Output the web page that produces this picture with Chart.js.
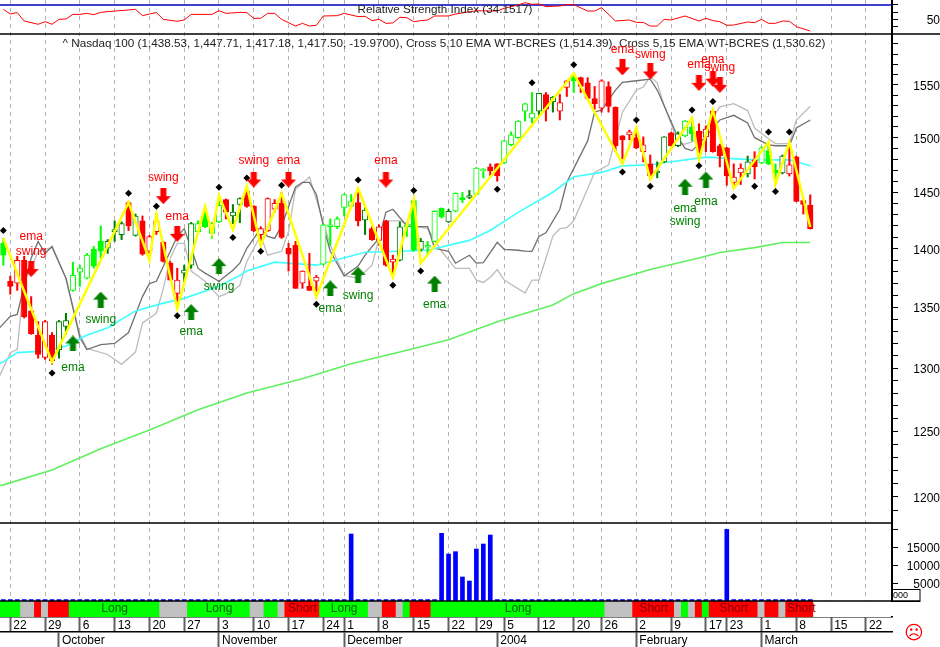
<!DOCTYPE html>
<html>
<head>
<meta charset="utf-8">
<title>Nasdaq 100</title>
<script src="https://cdn.jsdelivr.net/npm/chart.js@4/dist/chart.umd.min.js"></script>
<style>
  html, body { margin: 0; padding: 0; background: #fff; }
  canvas { display: block; }
</style>
</head>
<body>
<canvas id="chart" width="940" height="647"></canvas>
<script>
// daily candles, index 0 = 19 Sep 2003
const opens = [
  1404.7,1372,1370.3,1390,1347,1326.7,1308.6,1326.7,1315,1334,
  1364.3,1379.8,1374.6,1399.5,1406.4,1400.4,1415,1412.4,1440.8,1411.6,
  1424.5,1397.8,1415,1405.6,1387.5,1361.7,1379,1385.8,1415,1430.5,
  1413.3,1423.6,1443.4,1428.8,1439,1450.8,1437.4,1412.4,1415.9,1434.8,
  1440,1400.4,1403,1370.3,1367.7,1372,1386.7,1419.3,1419.3,1436.5,
  1437.4,1440.8,1425.3,1417.6,1407.3,1424.5,1388.4,1390,1419.3,1442.5,
  1399.5,1401.3,1406.4,1435.7,1423.6,1433,1445.3,1445.3,1448,1469.3,
  1473,1475.8,1476.7,1493.4,1500,1525,1518.4,1525,1540.8,1534,
  1525,1547.5,1558,1557,1552,1537,1527.7,1548.5,1528.6,1501.7,
  1502.6,1500,1487,1475.8,1467.5,1477.7,1504.5,1492.5,1501.7,1510,
  1506,1500.8,1525,1492.5,1490.6,1459,1467.5,1466.6,1479.5,1476.7,
  1488,1470,1467.5,1466.6,1482.3,1442.5,1438.53
]
const highs = [
  1409,1376.4,1393.5,1393.5,1359,1338,1339,1329,1339,1345,
  1388.4,1385.8,1396,1402,1420,1408,1424.5,1423.6,1441.7,1430.5,
  1428.8,1411.6,1430.5,1406.4,1389,1383.2,1385.8,1423,1424.5,1438.2,
  1423,1448,1444,1439,1445,1452.7,1438,1419.3,1445,1443.4,
  1449.9,1404.7,1406.4,1381,1396,1377,1421.5,1426.2,1428,1448.5,
  1448,1452.7,1436.5,1419.3,1421,1425,1394.4,1423.6,1421.5,1443,
  1409,1406.4,1433.5,1436,1434.8,1449.5,1449.9,1451.7,1472.5,1471.5,
  1475.8,1476,1497.5,1505.4,1516,1532.5,1542.7,1542,1542.7,1538.9,
  1540.8,1554.5,1560,1557.5,1557,1548.5,1555,1553,1529,1502,
  1507,1508,1500.8,1484,1477.7,1501,1505,1505.4,1516,1517.5,
  1513,1511,1525.5,1494,1491,1475.8,1475.8,1483,1487,1491.5,
  1496,1475.8,1484,1494,1483,1443.4,1447.71
]
const lows = [
  1385.8,1361,1364.3,1341,1327.5,1308,1307,1303,1308,1327.5,
  1363.5,1367.7,1374,1383.2,1391.8,1396,1406.4,1408,1415.9,1411,
  1394.4,1396,1412.4,1388.4,1373,1355,1370.3,1383.2,1414.2,1418.5,
  1409,1423,1426.2,1422,1422.8,1436.5,1415,1403,1415,1432.2,
  1409,1380.7,1366,1366,1364,1363.5,1386,1403,1417.6,1428.8,
  1437,1420,1412.4,1407.3,1403,1385,1376.4,1389.5,1410.7,1398,
  1397.8,1396,1406,1427,1423,1432.5,1440.8,1444.3,1447.5,1463,
  1464.7,1460,1476,1492.5,1499.5,1515.6,1513.8,1520,1515.6,1524,
  1516.6,1538.9,1542.7,1542.7,1536,1526.7,1524,1524,1487,1480.4,
  1498,1489.7,1477.7,1462,1463,1477,1492,1491.6,1501,1497,
  1478.6,1487,1486.5,1473,1456.3,1455.4,1457,1463.8,1462,1476,
  1475,1458,1466.6,1464.7,1441.5,1430.5,1417.18
]
const closes = [
  1394.4,1367.7,1390,1342,1328,1311,1338,1306,1338,1339,
  1377,1383.2,1394.4,1385,1397.8,1406.4,1416.7,1422,1420,1428.8,
  1395.2,1410.7,1424.5,1389,1373,1373,1381.5,1422,1422,1419.3,
  1422,1438.2,1432.2,1432.2,1444.3,1437.4,1415.9,1417.6,1444.3,1440,
  1409.9,1395.2,1366,1380.7,1364.3,1375.5,1421,1421,1426.2,1448,
  1441.7,1424.5,1434,1408,1419.3,1385.8,1391,1419.3,1421,1398.7,
  1406.4,1403,1433,1428,1433,1449,1443.4,1447,1472,1471,
  1469.3,1464.7,1497,1502.6,1515.6,1532,1523,1541.8,1526.7,1538,
  1533,1554,1554,1548.5,1537,1532,1554,1529.5,1492.5,1498,
  1505.4,1490.6,1493.4,1464.7,1469.3,1500.8,1492.5,1503.6,1515.6,1503.6,
  1488,1508,1487,1483,1464.7,1463.8,1472,1477.7,1473,1490.6,
  1475.8,1467.5,1483,1475,1441.7,1439,1417.5
]
// b = bright green, d = dark green, r = red
const candleTones = (
  'brrrrrrrdd' + 'bbbbbdddrd' + 'rrrrrrddbb' + 'bbrddrrrrr' + 'rrrrrrbbbb' + 'brdrrrrdbb' +
  'dbbbdbbdbb' + 'rrbbbbbdrd' + 'rrbrrrrrrr' + 'rrrrddrdbb' + 'rrrrrrrdrb' + 'bbdrrrr'
).split('')

const zigzagDays = [0,7,18,21,22,25,29,30,31,33,35,37,40,45,51,56,59,60,82,89,91,93,99,100,102,105,110,111,113,116]
const zigzagPrices = [1409,1305,1440.8,1390,1430.5,1349,1437.4,1413.3,1447,1416.7,1455.4,1403,1449,1359,1453.6,1375.5,1443.4,1387.5,1561,1475.8,1509,1462,1518.4,1479.5,1526,1453.6,1496,1457,1496,1419]

const diamondDays = [0,7,18,22,25,31,33,35,37,40,45,51,56,59,60,71,76,82,89,91,93,99,100,102,105,108,110,111,113]
const diamondPrices = [1415.9,1296,1449,1437.4,1343,1454.5,1409.9,1463,1397.8,1456.3,1352.5,1461,1368.6,1451.7,1380.7,1452.7,1552,1569.5,1468.4,1516.6,1455.4,1526,1474,1534,1446,1455.4,1505.4,1450.8,1505.4]

const cyanDays = [-1,0,2,5,7,9,12,15,19,23,26,31,34,35,39,45,52,57,61,67,70,74,79,82,86,89,93,96,101,108,113,116]
const cyanPrices = [1303,1305,1312.5,1313.5,1315,1318,1326.7,1333,1347,1353.5,1357.5,1367.7,1377,1380.7,1388.4,1385.8,1397,1397.8,1398.7,1407.3,1416,1432,1450,1464,1468,1474,1475,1477.7,1482,1479.5,1479.5,1474]

const greenDays = [-1,0,7,14,21,28,35,43,50,57,64,71,79,82,86,93,100,103,108,112,116]
const greenPrices = [1208,1209,1220.3,1236.4,1251,1266.7,1280,1291.4,1303.4,1313,1323,1337.9,1352,1361.5,1370,1382,1392,1396.7,1401,1405.4,1405.4]

const darkDays = [-1,1,2,3,4,5,6,7,9,11,12,14,16,18,20,21,22,24,25,26,28,29,31,33,34,35,37,38,39,40,42,43,44,45,46,47,49,51,52,54,55,56,58,59,61,62,64,65,67,68,69,71,72,74,75,76,77,78,80,81,84,85,86,88,89,91,93,94,95,97,98,99,100,102,103,105,107,108,110,111,113,114,116]
const darkPrices = [1330,1342.5,1344,1368.6,1391.8,1406.4,1396,1402,1374.6,1325,1315,1319,1320,1329,1359,1370,1372,1397.8,1410.7,1417.6,1383,1379,1372,1381.5,1387.5,1400.4,1417.6,1410.7,1409,1420,1454.5,1459,1459,1448,1420,1397.8,1376.4,1385,1394.4,1409,1432.2,1434.8,1420,1419.3,1419.3,1400.4,1397.8,1387.5,1394.4,1387.5,1388,1405.6,1399.5,1398.7,1398,1397.8,1410.7,1414,1434.8,1459,1497,1524,1526,1545,1552.5,1554,1555.5,1545,1530,1500,1490,1488,1494,1509,1516.6,1521,1513.8,1500,1493.4,1492.5,1492.5,1509,1516.6]

const lightDays = [-1,1,2,3,4,5,7,9,11,12,15,17,19,20,22,23,24,25,26,27,29,31,33,34,35,37,38,40,41,42,44,45,47,49,51,53,54,55,57,59,61,63,65,67,68,69,70,71,72,75,76,77,78,79,80,81,82,85,87,89,91,92,93,94,95,96,97,98,99,100,102,103,105,107,108,110,111,113,114,116]
const lightPrices = [1288,1312.5,1315,1374.6,1383,1397.8,1401,1374.6,1327.5,1316,1311,1303,1313,1337,1345,1366,1391.8,1404.7,1404.7,1380.7,1372,1359,1364,1368.6,1389,1411.6,1394.4,1397.8,1415,1452.7,1463.8,1443.4,1403,1377,1374.6,1385.8,1409,1424.5,1424.5,1420,1417.6,1397.8,1383,1383,1373,1371,1375.5,1382,1373,1362,1373,1373,1391.8,1411,1417.6,1418.5,1424.5,1468,1475,1524,1545,1548,1558,1552,1530,1513,1494,1494,1496,1500,1519,1529,1532,1525.5,1509,1499,1494.5,1494.5,1516.6,1529.5]

const downArrowDays = [4,23,25,36,41,55,89,93,100,102,103]
const downArrowPrices = [1382.5,1446.5,1413,1461.5,1461.5,1461.5,1567,1563,1552,1556,1550]
const upArrowDays = [10,14,27,31,47,51,62,98,101]
const upArrowPrices = [1320,1356.5,1346,1385,1366,1377.5,1370,1455,1461.5]

const downLabels = ['ema','swing','swing','ema','swing','ema','ema','ema','swing','ema','ema','swing']
const downLabelDays = [4,4,23,25,36,41,55,89,93,100,102,103]
const downLabelPrices = [1410.7,1397.8,1463,1428,1478.6,1478.6,1478.6,1584,1579,1569.5,1574.5,1566.7]
const upLabels = ['ema','swing','ema','swing','ema','swing','ema','ema','swing','ema']
const upLabelDays = [10,14,27,31,47,51,62,98,98,101]
const upLabelPrices = [1300,1339.5,1330,1367,1349,1360,1352,1435.7,1423.6,1441.7]

const rsiDays = [0,1,2,3,5,6,7,8,9,10,11,12,13,14,16,18,19,20,21,22,23,25,26,27,30,31,32,34,35,36,37,38,39,40,42,43,44,45,46,48,49,51,52,53,54,55,56,57,58,59,60,61,62,64,65,68,71,72,74,75,76,77,78,80,81,82,84,85,86,88,90,91,92,93,94,95,96,98,100,101,102,103,104,105,107,108,109,110,111,112,113,114,116]
const rsiValues = [63.9,57.5,59.4,47.9,43.4,47,43.4,50.2,50.7,57,57,58.4,56.6,59.8,61.6,63,63.9,55.2,57.5,59.4,50.2,47.5,49.3,57,57,62,58.4,59.8,59.4,51.6,51.6,58.4,58.4,50.2,41,44.7,41,42,54.8,55.2,58.4,53.9,54.3,48.4,50.2,44.7,45.2,53,52.5,47,48.4,49.3,54.8,54.8,57.5,62,61.6,65.3,69.9,73,70.8,71.2,67.6,68.5,70.3,70.3,61.6,61.6,66.2,47.9,49.3,46,46,41,41,50.2,49.3,54.8,47.9,51.6,48.4,47,42,42.4,46.6,45.7,50.2,44.7,44.7,47.9,47.5,40.2,34.15]

const volumeDays = [50,63,64,65,66,67,68,69,70,104]
const volumeValues = [18600,18800,13050,13700,6670,5550,14440,15830,18330,19900]
const idleVolume = 400

// long / short bar under the volumes: state, run length in days
const bandRuns = [['g',3],['s',2],['r',1],['s',1],['r',3],['g',13],['s',4],['g',9],['s',2],['g',2],['s',1],['r',5],['g',7],['s',2],['r',2],['s',1],['g',1],['r',3],['g',25],['s',4],['r',6],['s',1],['g',1],['s',1],['r',1],['g',1],['r',7],['s',1],['r',2],['s',1],['r',4],['w',11]]
const bandLabels = ['Long','Long','Short','Long','Long','Short','Short','Short']
const bandLabelDays = [16,31,43,49,74,93.5,105,114.7]

const dayTicks = [1,6,11,16,21,26,31,36,41,46,49,54,59,64,68,72,77,82,86,91,96,101,104,109,114,119,124]
const dayNames = ['22','29','6','13','20','27','3','10','17','24','1','8','15','22','29','5','12','20','26','2','9','17','23','1','8','15','22']
const monthTicks = [8,31,49,71,91,109]
const monthNames = ['October','November','December','2004','February','March']
const priceTicks = [1190,1200,1210,1220,1230,1240,1250,1260,1270,1280,1290,1300,1310,1320,1330,1340,1350,1360,1370,1380,1390,1400,1410,1420,1430,1440,1450,1460,1470,1480,1490,1500,1510,1520,1530,1540,1550,1560,1570,1580,1590]
const priceLabels = [1200,1250,1300,1350,1400,1450,1500,1550]
const rsiTicks = [40,50,60,70]
const rsiLevel = 70
const volumeTicks = [5000,10000,15000,20000]

const rsiTitle = 'Relative Strength Index (34.1517)'
const mainTitle = '^ Nasdaq 100 (1,438.53, 1,447.71, 1,417.18, 1,417.50, -19.9700), Cross 5,10 EMA WT-BCRES (1,514.39), Cross 5,15 EMA WT-BCRES (1,530.62)'

const xMin = -0.48
const xMax = 127.75
const FONT = '"Liberation Sans", Arial, sans-serif'
const TONE = {b: '#00ff00', d: '#008000', r: '#ff0000'}
const BAND = {g: '#00ff00', r: '#ff0000', s: '#c0c0c0', w: '#ffffff'}

function pairs(xs, ys) {
  return xs.map((x, i) => ({x: x, y: ys[i]}))
}

function makeArrow(color, up) {
  const c = document.createElement('canvas')
  c.width = 15
  c.height = 16
  const g = c.getContext('2d')
  g.fillStyle = color
  g.beginPath()
  if (up) {
    g.moveTo(7.5, 0); g.lineTo(15, 8); g.lineTo(10.5, 8); g.lineTo(10.5, 16)
    g.lineTo(4.5, 16); g.lineTo(4.5, 8); g.lineTo(0, 8)
  } else {
    g.moveTo(7.5, 16); g.lineTo(15, 8); g.lineTo(10.5, 8); g.lineTo(10.5, 0)
    g.lineTo(4.5, 0); g.lineTo(4.5, 8); g.lineTo(0, 8)
  }
  g.closePath()
  g.fill()
  return c
}

function lineSet(label, xs, ys, axis, color, width, order) {
  return {
    type: 'line', label: label, data: pairs(xs, ys), yAxisID: axis, xAxisID: 'x',
    borderColor: color, borderWidth: width, pointRadius: 0, tension: 0, fill: false, order: order
  }
}

function markSet(label, xs, ys, style, radius, color, order) {
  return {
    type: 'line', label: label, data: pairs(xs, ys), yAxisID: 'yMain', xAxisID: 'x', showLine: false,
    pointStyle: style, pointRadius: radius, backgroundColor: color, borderColor: color, pointBorderWidth: 0, order: order
  }
}

const days = opens.map((v, i) => i)
const bandStates = []
bandRuns.forEach(run => {
  for (let n = 0; n < run[1]; n++) bandStates.push(run[0])
})
const idleDays = days.filter(d => !volumeDays.includes(d))

function noPadding(scale) {
  scale.paddingTop = 0
  scale.paddingBottom = 0
  scale.paddingLeft = 0
  scale.paddingRight = 0
}

function rightAxis(weight, stackWeight, ticks, labelOf, padding, min, max, type) {
  return {
    type: type, position: 'right', axis: 'y', stack: 'panes', stackWeight: stackWeight, weight: weight,
    min: min, max: max, offset: false,
    grid: {drawOnChartArea: false, tickColor: '#000', tickLength: 6, tickWidth: 1},
    border: {display: true, color: '#000', width: 2},
    ticks: {
      autoSkip: false, padding: padding, labelOffset: 1.5, color: '#000', crossAlign: 'far', font: {family: FONT, size: 12},
      callback: labelOf
    },
    afterBuildTicks: s => { s.ticks = ticks.map(v => ({value: v})) },
    afterFit: s => { s.width = 48; noPadding(s) }
  }
}

const textPlugin = {
  id: 'texts',
  afterDraw(chart) {
    const ctx = chart.ctx
    const xs = chart.scales.x
    const main = chart.scales.yMain
    const band = chart.scales.yBand
    const vol = chart.scales.yVol
    ctx.save()

    ctx.strokeStyle = '#000'
    ctx.lineWidth = 1.5
    ctx.beginPath()
    ctx.moveTo(0, main.top); ctx.lineTo(940, main.top)
    ctx.moveTo(0, vol.top); ctx.lineTo(xs.right, vol.top)
    ctx.moveTo(0, band.top); ctx.lineTo(xs.right + 28, band.top)
    ctx.stroke()

    ctx.textAlign = 'center'
    ctx.textBaseline = 'middle'
    ctx.font = '11.7px ' + FONT
    ctx.fillStyle = '#222'
    ctx.fillText(rsiTitle, 445, 10)
    ctx.fillText(mainTitle, 444, 44)

    ctx.font = '12px ' + FONT
    ctx.fillStyle = '#ff0000'
    downLabels.forEach((t, i) => {
      ctx.fillText(t, xs.getPixelForValue(downLabelDays[i]), main.getPixelForValue(downLabelPrices[i]))
    })
    ctx.fillStyle = '#008000'
    upLabels.forEach((t, i) => {
      ctx.fillText(t, xs.getPixelForValue(upLabelDays[i]), main.getPixelForValue(upLabelPrices[i]))
    })

    bandLabels.forEach((t, i) => {
      ctx.fillStyle = t === 'Long' ? '#006400' : '#800000'
      ctx.fillText(t, xs.getPixelForValue(bandLabelDays[i]), band.getPixelForValue(0.5))
    })

    // small leftover box under the volume axis
    ctx.lineWidth = 1
    ctx.strokeRect(892.5, 589.5, 27.5, 12)
    ctx.fillStyle = '#000'
    ctx.font = '9px ' + FONT
    ctx.textAlign = 'left'
    ctx.fillText('000', 893, 596)

    ctx.fillStyle = '#ff0000'
    ctx.font = '19px "DejaVu Sans"'
    ctx.textAlign = 'center'
    ctx.fillText('\u2639', 914, 634)
    ctx.restore()
  }
}

new Chart(document.getElementById('chart'), {
  type: 'bar',
  plugins: [textPlugin],
  data: {
    datasets: [
      markSet('down arrows', downArrowDays, downArrowPrices, makeArrow('#ff0000', false), 8, '#ff0000', 0),
      markSet('up arrows', upArrowDays, upArrowPrices, makeArrow('#008000', true), 8, '#008000', 0),
      markSet('pivots', diamondDays, diamondPrices, 'rectRot', 3.5, '#000', 1),
      lineSet('zigzag', zigzagDays, zigzagPrices, 'yMain', '#ffff00', 2.5, 2),
      {
        type: 'bar', label: 'bodies', yAxisID: 'yMain', xAxisID: 'x', grouped: false, barThickness: 5.5, order: 3,
        data: days.map(d => ({x: d, y: [opens[d], closes[d]]})),
        backgroundColor: days.map(d => closes[d] > opens[d] ? '#fff' : TONE[candleTones[d]]),
        borderColor: days.map(d => TONE[candleTones[d]]),
        borderWidth: 1, borderSkipped: false
      },
      {
        type: 'bar', label: 'wicks', yAxisID: 'yMain', xAxisID: 'x', grouped: false, barThickness: 1.4, order: 4,
        data: days.map(d => ({x: d, y: [lows[d], highs[d]]})),
        backgroundColor: days.map(d => TONE[candleTones[d]])
      },
      lineSet('cyan average', cyanDays, cyanPrices, 'yMain', '#40ffff', 1.6, 5),
      lineSet('green average', greenDays, greenPrices, 'yMain', '#60f060', 1.6, 5),
      lineSet('cross 5,10', darkDays, darkPrices, 'yMain', '#707070', 1.3, 6),
      lineSet('cross 5,15', lightDays, lightPrices, 'yMain', '#bcbcbc', 1.3, 7),
      lineSet('rsi', rsiDays, rsiValues, 'yRsi', '#ff0000', 1, 8),
      lineSet('rsi level', [xMin, xMax], [rsiLevel, rsiLevel], 'yRsi', '#0000c0', 1.5, 9),
      {
        type: 'bar', label: 'volume', yAxisID: 'yVol', xAxisID: 'x', grouped: false, barThickness: 4, order: 10,
        data: pairs(volumeDays, volumeValues), backgroundColor: '#0000ff'
      },
      {
        type: 'bar', label: 'idle volume', yAxisID: 'yVol', xAxisID: 'x', grouped: false, barThickness: 4, order: 11,
        data: idleDays.map(d => ({x: d, y: idleVolume})), backgroundColor: '#0000ff'
      },
      {
        type: 'bar', label: 'band', yAxisID: 'yBand', xAxisID: 'x', grouped: false, barThickness: 7.5, order: 12,
        data: bandStates.map((s, d) => ({x: d, y: [0, 1]})),
        backgroundColor: bandStates.map(s => BAND[s])
      }
    ]
  },
  options: {
    responsive: false,
    animation: false,
    devicePixelRatio: 1,
    events: [],
    layout: {padding: 0, autoPadding: false},
    plugins: {legend: {display: false}, tooltip: {enabled: false}},
    scales: {
      x: {
        type: 'linear', position: 'bottom', min: xMin, max: xMax, offset: false, weight: 0,
        grid: {offset: false, color: '#b4b4b4', lineWidth: 1, tickColor: '#606060', tickWidth: 2, tickLength: 15, tickBorderDash: []},
        border: {display: true, color: '#000', width: 1.5, dash: [4, 4]},
        ticks: {
          autoSkip: false, maxRotation: 0, align: 'start', labelOffset: 3, padding: -14, color: '#000',
          font: {family: FONT, size: 12}, callback: (v, i) => dayNames[i]
        },
        afterBuildTicks: s => { s.ticks = dayTicks.map(v => ({value: v})) },
        afterFit: s => { s.height = 15; noPadding(s) }
      },
      xMonth: {
        type: 'linear', axis: 'x', position: 'bottom', min: xMin, max: xMax, offset: false, weight: 1,
        grid: {offset: false, drawOnChartArea: false, tickColor: '#606060', tickWidth: 2, tickLength: 15},
        border: {display: true, color: '#000', width: 1.5},
        ticks: {
          autoSkip: false, maxRotation: 0, align: 'start', labelOffset: 3, padding: -14, color: '#000',
          font: {family: FONT, size: 12}, callback: (v, i) => monthNames[i]
        },
        afterBuildTicks: s => { s.ticks = monthTicks.map(v => ({value: v})) },
        afterFit: s => { s.height = 15; noPadding(s) }
      },
      yRsi: rightAxis(0, 34, rsiTicks, v => v === 50 ? '50' : '', 19, 30.1, 76.7, 'linear'),
      yMain: rightAxis(1, 489, priceTicks, v => priceLabels.includes(v) ? String(v) : '', 6, 1180.7, 1599.8, 'logarithmic'),
      yVol: rightAxis(2, 78, volumeTicks, v => v < 20000 ? String(v) : '', -1, 0, 21667, 'linear'),
      yBand: {
        type: 'linear', position: 'right', axis: 'y', stack: 'panes', stackWeight: 16, weight: 3,
        min: 0, max: 1, grid: {display: false}, border: {display: false}, ticks: {display: false},
        afterFit: s => { s.width = 48; noPadding(s) }
      }
    }
  }
})
</script>
</body>
</html>
